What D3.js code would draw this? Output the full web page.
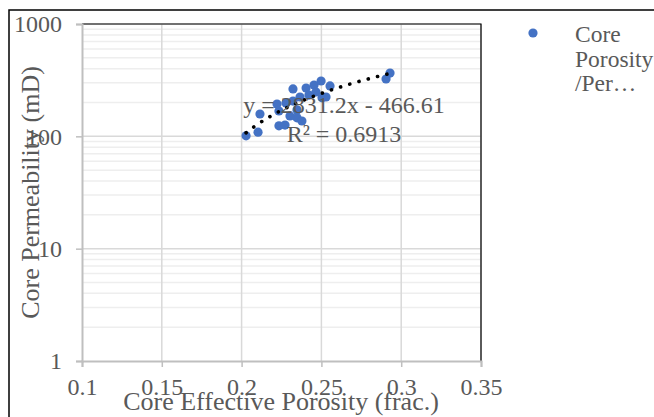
<!DOCTYPE html>
<html><head><meta charset="utf-8">
<script src="https://cdn.jsdelivr.net/npm/d3@7"></script>
<style>html,body{margin:0;padding:0;background:#fff;}svg{display:block;}</style>
</head><body>
<svg id="c" width="654" height="417"></svg>
<script>
const porosity = [0.2028,0.2103,0.2115,0.2222,0.2234,0.2234,0.2272,0.2278,0.2322,0.2322,0.2347,0.2347,0.2378,0.2366,0.2404,0.2422,0.2454,0.2466,0.2498,0.2504,0.2529,0.2554,0.2905,0.2930,0.2303];
const permeability = [101,109,158,194,168,124,126,198,264,206,172,146,137,224,269,233,286,248,311,220,224,281,324,366,152];
const xTicks = [0.1,0.15,0.2,0.25,0.3,0.35];
const yTicks = [1,10,100,1000];
const trendSlope = 2831.2, trendIntercept = -466.61;
const trendLabel = ["y = 2831.2x - 466.61","R² = 0.6913"];
const seriesName = ["Core","Porosity","/Per…"];
const xTitle = "Core Effective Porosity (frac.)";
const yTitle = "Core Permeability (mD)";

const svg = d3.select("#c");
const font = "'Liberation Serif','Times New Roman',serif";
const L=82,R=481,T=24,B=361;
const x = d3.scaleLinear().domain([0.1,0.35]).range([L,R]);
const y = d3.scaleLog().domain([1,1000]).range([B,T]);

// outer chart border
svg.append("rect").attr("x",9).attr("y",10).attr("width",700).attr("height",500)
  .attr("fill","#fff").attr("stroke","#000").attr("stroke-width",1.5);

// minor gridlines
const minor=[];
for(let d=1; d<1000; d*=10) for(let k=2;k<=9;k++) minor.push(d*k);
svg.append("g").selectAll("line").data(minor).join("line")
  .attr("x1",L).attr("x2",R).attr("y1",d=>y(d)).attr("y2",d=>y(d))
  .attr("stroke","#eeeeee").attr("stroke-width",1.5);
// major gridlines
svg.append("g").selectAll("line").data(yTicks.slice(1)).join("line")
  .attr("x1",L).attr("x2",R).attr("y1",d=>y(d)).attr("y2",d=>y(d))
  .attr("stroke","#d9d9d9").attr("stroke-width",1.5);
svg.append("g").selectAll("line").data(xTicks.slice(1)).join("line")
  .attr("x1",d=>x(d)).attr("x2",d=>x(d)).attr("y1",T).attr("y2",B)
  .attr("stroke","#d9d9d9").attr("stroke-width",1.5);

// plot border top/right
svg.append("path").attr("d",`M${L},${T}H${R}V${B}`).attr("fill","none").attr("stroke","#000").attr("stroke-width",1.2);

// axes
const xAxis = svg.append("g").attr("transform",`translate(0,${B})`)
  .call(d3.axisBottom(x).tickValues(xTicks).tickSize(6).tickFormat(d3.format("")));
const yAxis = svg.append("g").attr("transform",`translate(${L},0)`)
  .call(d3.axisLeft(y).tickValues(yTicks).tickSize(6).tickFormat(d3.format("")));
[xAxis,yAxis].forEach(a=>{
  a.select(".domain").attr("stroke","#bfbfbf").attr("stroke-width",2);
  a.selectAll(".tick line").attr("stroke","#bfbfbf").attr("stroke-width",1.5);
  a.selectAll("text").attr("font-family",font).attr("font-size",24).attr("fill","#595959");
});
xAxis.selectAll("text").attr("dy",null).attr("y",34);
yAxis.selectAll("text").attr("x",-20).attr("dy","0.33em");

// points
svg.append("g").selectAll("circle").data(porosity).join("circle")
  .attr("cx",d=>x(d)).attr("cy",(d,i)=>y(permeability[i])).attr("r",4.6)
  .attr("fill","#4472C4");

// trendline
const xmin=d3.min(porosity), xmax=d3.max(porosity);
const tl=d3.range(0,101).map(i=>{const xv=xmin+(xmax-xmin)*i/100;return [xv,trendSlope*xv+trendIntercept];});
svg.append("path").datum(tl)
  .attr("d",d3.line().x(d=>x(d[0])).y(d=>y(d[1])))
  .attr("fill","none").attr("stroke","#000").attr("stroke-width",3.6)
  .attr("stroke-linecap","round").attr("stroke-dasharray","0.1 9.5");

// trend label
svg.append("text").attr("x",344).attr("y",113).attr("text-anchor","middle")
  .attr("font-family",font).attr("font-size",24).attr("fill","#595959").text(trendLabel[0]);
svg.append("text").attr("x",344).attr("y",142).attr("text-anchor","middle")
  .attr("font-family",font).attr("font-size",24).attr("fill","#595959").text(trendLabel[1]);

// axis titles
svg.append("text").attr("x",281).attr("y",410).attr("text-anchor","middle")
  .attr("font-family",font).attr("font-size",26).attr("fill","#595959").text(xTitle);
svg.append("text").attr("transform",`translate(39,${(T+B)/2}) rotate(-90)`).attr("text-anchor","middle")
  .attr("font-family",font).attr("font-size",26).attr("fill","#595959").text(yTitle);

// legend
svg.append("circle").attr("cx",533).attr("cy",33).attr("r",4.6).attr("fill","#4472C4");
svg.append("text").attr("font-family",font).attr("font-size",23.5).attr("fill","#595959")
  .selectAll("tspan").data(seriesName).join("tspan")
  .attr("x",575).attr("y",(d,i)=>42+i*24.5).text(d=>d);
</script>
</body></html>
